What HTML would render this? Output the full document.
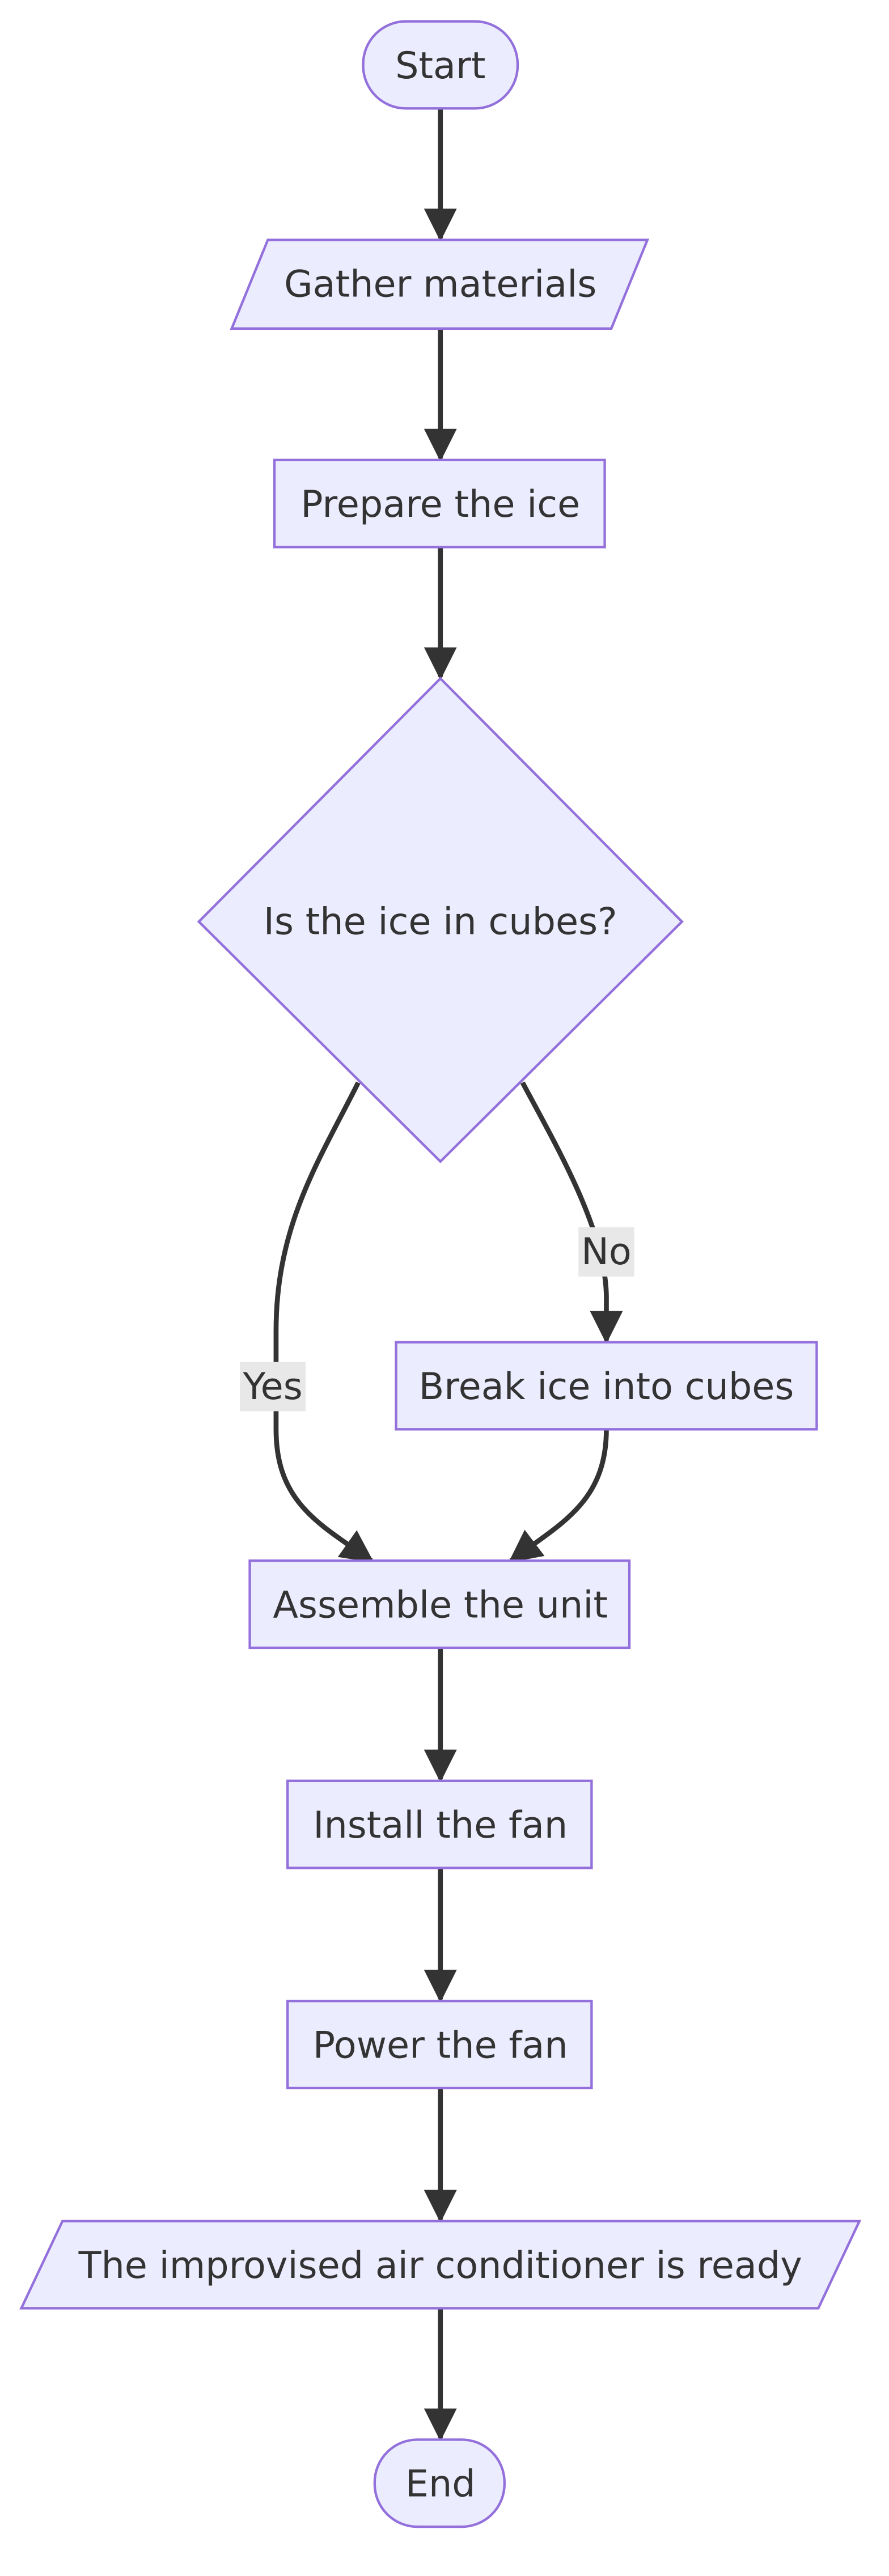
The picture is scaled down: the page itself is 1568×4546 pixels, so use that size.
<!DOCTYPE html>
<html><head><meta charset="utf-8"><style>
html,body{margin:0;padding:0;background:#fff;}
svg{display:block;}
text{font-family:"DejaVu Sans","Liberation Sans",sans-serif;fill:#333;font-size:22.5px;text-anchor:middle;dominant-baseline:central;}
.n{fill:#ECECFF;stroke:#9370DB;stroke-width:1.5;}
.e{fill:none;stroke:#333;stroke-width:3;}
</style></head><body>
<svg width="1568" height="4546" viewBox="0 0 541 1568" preserveAspectRatio="none" xmlns="http://www.w3.org/2000/svg">
<defs>
<marker id="b" viewBox="0 0 10 10" refX="9" refY="5" markerWidth="20" markerHeight="20" orient="auto" markerUnits="userSpaceOnUse"><path d="M0,0L10,5L0,10z" fill="#333"/></marker></defs>
<g marker-end="url(#b)">
<path class="e" d="M268,66 L268,145"/>
<path class="e" d="M268,200 L268,279"/>
<path class="e" d="M268,333 L268,412"/>
<path class="e" d="M218,659 C195,705 168,745 168,810 L168,870 C168,915 195,928 226,950"/>
<path class="e" d="M318,659 C340,700 369,750 369,790 L369,816"/>
<path class="e" d="M369,870 C369,915 340,928 311,950"/>
<path class="e" d="M268,1003 L268,1083"/>
<path class="e" d="M268,1137 L268,1217"/>
<path class="e" d="M268,1271 L268,1351"/>
<path class="e" d="M268,1405 L268,1484"/>
</g>
<rect class="n" x="221" y="13" width="94" height="53" rx="26"/><text x="268" y="40">Start</text>
<polygon class="n" points="163,146 394,146 372,200 141,200"/><text x="268" y="173">Gather materials</text>
<rect class="n" x="167" y="280" width="201" height="53"/><text x="268" y="307">Prepare the ice</text>
<polygon class="n" points="268,413 415,561 268,707 121,561"/><text x="268" y="561">Is the ice in cubes?</text>
<rect class="n" x="241" y="817" width="256" height="53"/><text x="369" y="844">Break ice into cubes</text>
<rect class="n" x="152" y="950" width="231" height="53"/><text x="268" y="977">Assemble the unit</text>
<rect class="n" x="175" y="1084" width="185" height="53"/><text x="268" y="1111">Install the fan</text>
<rect class="n" x="175" y="1218" width="185" height="53"/><text x="268" y="1245">Power the fan</text>
<polygon class="n" points="38,1352 523,1352 498,1405 13,1405"/><text x="268" y="1379">The improvised air conditioner is ready</text>
<rect class="n" x="228" y="1485" width="79" height="53" rx="26"/><text x="268" y="1512">End</text>
<rect x="146" y="829" width="40" height="30" fill="#e8e8e8"/><text x="166" y="844">Yes</text>
<rect x="352" y="747" width="34" height="30" fill="#e8e8e8"/><text x="369" y="762">No</text>
</svg>
</body></html>
